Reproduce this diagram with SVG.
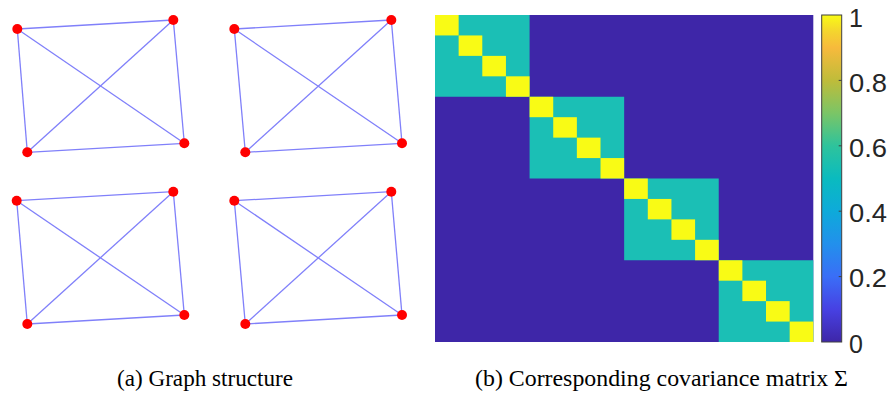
<svg xmlns="http://www.w3.org/2000/svg" width="892" height="395" viewBox="0 0 892 395">
<defs>
<style>
.e{stroke:#8080FA;stroke-width:1.3;fill:none}
.n{fill:#FF0000}
.y{fill:#F9FB15}
.t{fill:#1BBFB5}
.lbl{font-family:"Liberation Sans",Arial,sans-serif;font-size:25px;fill:#262626}
</style>
<linearGradient id="parula" x1="0" y1="1" x2="0" y2="0">
<stop offset="0" stop-color="#3E26A8"/>
<stop offset="0.1" stop-color="#4741E3"/>
<stop offset="0.2" stop-color="#3A6EF7"/>
<stop offset="0.3" stop-color="#2290EC"/>
<stop offset="0.4" stop-color="#0EAADA"/>
<stop offset="0.5" stop-color="#0ABBBF"/>
<stop offset="0.6" stop-color="#2EC39C"/>
<stop offset="0.7" stop-color="#7BC566"/>
<stop offset="0.8" stop-color="#BFBC3A"/>
<stop offset="0.9" stop-color="#F7BA3C"/>
<stop offset="0.95" stop-color="#F4D52E"/>
<stop offset="1" stop-color="#F9FB15"/>
</linearGradient>
</defs>
<rect width="892" height="395" fill="#FFFFFF"/>

<g id="connectors">
<line class="e" x1="17.3" y1="29" x2="173.3" y2="20"/>
<line class="e" x1="17.3" y1="29" x2="27.3" y2="152.3"/>
<line class="e" x1="27.3" y1="152.3" x2="184.3" y2="143.3"/>
<line class="e" x1="173.3" y1="20" x2="184.3" y2="143.3"/>
<line class="e" x1="17.3" y1="29" x2="184.3" y2="143.3"/>
<line class="e" x1="173.3" y1="20" x2="27.3" y2="152.3"/>

<line class="e" x1="234.3" y1="29" x2="391.3" y2="20"/>
<line class="e" x1="234.3" y1="29" x2="245.3" y2="152.3"/>
<line class="e" x1="245.3" y1="152.3" x2="402" y2="143.3"/>
<line class="e" x1="391.3" y1="20" x2="402" y2="143.3"/>
<line class="e" x1="234.3" y1="29" x2="402" y2="143.3"/>
<line class="e" x1="391.3" y1="20" x2="245.3" y2="152.3"/>

<line class="e" x1="16.7" y1="200.7" x2="173.3" y2="191.7"/>
<line class="e" x1="16.7" y1="200.7" x2="27.3" y2="324"/>
<line class="e" x1="27.3" y1="324" x2="184.3" y2="315"/>
<line class="e" x1="173.3" y1="191.7" x2="184.3" y2="315"/>
<line class="e" x1="16.7" y1="200.7" x2="184.3" y2="315"/>
<line class="e" x1="173.3" y1="191.7" x2="27.3" y2="324"/>

<line class="e" x1="234.3" y1="200.7" x2="391.3" y2="191.7"/>
<line class="e" x1="234.3" y1="200.7" x2="245.3" y2="324"/>
<line class="e" x1="245.3" y1="324" x2="402" y2="315"/>
<line class="e" x1="391.3" y1="191.7" x2="402" y2="315"/>
<line class="e" x1="234.3" y1="200.7" x2="402" y2="315"/>
<line class="e" x1="391.3" y1="191.7" x2="245.3" y2="324"/>
</g>

<g id="g1n1"><circle class="n" cx="17.3" cy="29" r="5"/></g>
<g id="g1n2"><circle class="n" cx="173.3" cy="20" r="5"/></g>
<g id="g1n3"><circle class="n" cx="27.3" cy="152.3" r="5"/></g>
<g id="g1n4"><circle class="n" cx="184.3" cy="143.3" r="5"/></g>

<g id="g2n1"><circle class="n" cx="234.3" cy="29" r="5"/></g>
<g id="g2n2"><circle class="n" cx="391.3" cy="20" r="5"/></g>
<g id="g2n3"><circle class="n" cx="245.3" cy="152.3" r="5"/></g>
<g id="g2n4"><circle class="n" cx="402" cy="143.3" r="5"/></g>

<g id="g3n1"><circle class="n" cx="16.7" cy="200.7" r="5"/></g>
<g id="g3n2"><circle class="n" cx="173.3" cy="191.7" r="5"/></g>
<g id="g3n3"><circle class="n" cx="27.3" cy="324" r="5"/></g>
<g id="g3n4"><circle class="n" cx="184.3" cy="315" r="5"/></g>

<g id="g4n1"><circle class="n" cx="234.3" cy="200.7" r="5"/></g>
<g id="g4n2"><circle class="n" cx="391.3" cy="191.7" r="5"/></g>
<g id="g4n3"><circle class="n" cx="245.3" cy="324" r="5"/></g>
<g id="g4n4"><circle class="n" cx="402" cy="315" r="5"/></g>

<g id="matrix">
<rect x="435" y="15" width="378.3" height="327" fill="#3E26A8"/>
<rect class="t" x="435" y="15" width="94.58" height="81.75"/>
<rect class="t" x="529.58" y="96.75" width="94.58" height="81.75"/>
<rect class="t" x="624.15" y="178.5" width="94.58" height="81.75"/>
<rect class="t" x="718.73" y="260.25" width="94.58" height="81.75"/>
<rect class="y" x="435" y="15" width="23.65" height="20.44"/>
<rect class="y" x="458.64" y="35.44" width="23.65" height="20.44"/>
<rect class="y" x="482.29" y="55.88" width="23.65" height="20.44"/>
<rect class="y" x="505.93" y="76.31" width="23.65" height="20.44"/>
<rect class="y" x="529.58" y="96.75" width="23.65" height="20.44"/>
<rect class="y" x="553.22" y="117.19" width="23.65" height="20.44"/>
<rect class="y" x="576.86" y="137.63" width="23.65" height="20.44"/>
<rect class="y" x="600.51" y="158.06" width="23.65" height="20.44"/>
<rect class="y" x="624.15" y="178.5" width="23.65" height="20.44"/>
<rect class="y" x="647.79" y="198.94" width="23.65" height="20.44"/>
<rect class="y" x="671.44" y="219.38" width="23.65" height="20.44"/>
<rect class="y" x="695.08" y="239.81" width="23.65" height="20.44"/>
<rect class="y" x="718.73" y="260.25" width="23.65" height="20.44"/>
<rect class="y" x="742.37" y="280.69" width="23.65" height="20.44"/>
<rect class="y" x="766.01" y="301.13" width="23.65" height="20.44"/>
<rect class="y" x="789.66" y="321.56" width="23.65" height="20.44"/>
</g>

<g id="colorbar">
<rect x="821.7" y="15" width="20" height="327" fill="url(#parula)" stroke="#404040" stroke-width="1"/>
<g stroke="#404040" stroke-width="1">
<line x1="838.7" y1="80.4" x2="841.7" y2="80.4"/>
<line x1="838.7" y1="145.8" x2="841.7" y2="145.8"/>
<line x1="838.7" y1="211.2" x2="841.7" y2="211.2"/>
<line x1="838.7" y1="276.6" x2="841.7" y2="276.6"/>
</g>
<text class="lbl" x="849" y="26.5">1</text>
<text class="lbl" x="849" y="91.7" textLength="38" lengthAdjust="spacingAndGlyphs">0.8</text>
<text class="lbl" x="849" y="157" textLength="38" lengthAdjust="spacingAndGlyphs">0.6</text>
<text class="lbl" x="849" y="222" textLength="38" lengthAdjust="spacingAndGlyphs">0.4</text>
<text class="lbl" x="849" y="287.3" textLength="38" lengthAdjust="spacingAndGlyphs">0.2</text>
<text class="lbl" x="849" y="352.5">0</text>
</g>

<g font-family="Liberation Serif, Times New Roman, serif" font-size="23" fill="#000000">
<text x="117" y="386" textLength="176" lengthAdjust="spacingAndGlyphs">(a) Graph structure</text>
<text x="475" y="386" textLength="373" lengthAdjust="spacingAndGlyphs">(b) Corresponding covariance matrix Σ</text>
</g>
</svg>
